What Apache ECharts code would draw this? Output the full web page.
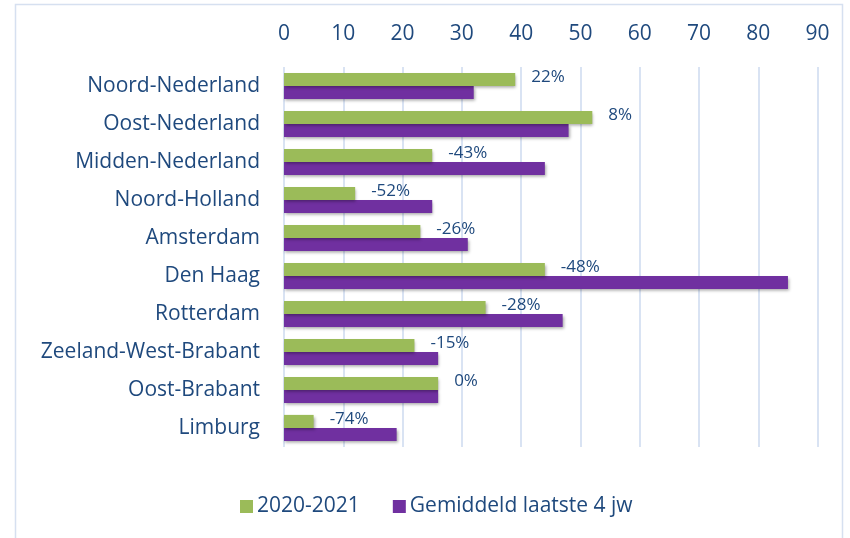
<!DOCTYPE html>
<html>
<head>
<meta charset="utf-8">
<script src="https://cdn.jsdelivr.net/npm/echarts@6/dist/echarts.min.js"></script>
<style>
html,body{margin:0;padding:0;background:#fff;}
#chart{width:850px;height:538px;}
</style>
</head>
<body>
<div id="chart"></div>
<script>
var categories = ["Noord-Nederland","Oost-Nederland","Midden-Nederland","Noord-Holland","Amsterdam","Den Haag","Rotterdam","Zeeland-West-Brabant","Oost-Brabant","Limburg"];
var values2020 = [39, 52, 25, 12, 23, 44, 34, 22, 26, 5];
var valuesAvg = [32, 48, 44, 25, 31, 85, 47, 26, 26, 19];
var pctLabels = ["22%","8%","-43%","-52%","-26%","-48%","-28%","-15%","0%","-74%"];
var seriesNames = ["2020-2021","Gemiddeld laatste 4 jw"];
var xTicks = [0, 90, 10];

var textColor = '#1F497D';
var fontFam = '"Open Sans", "Liberation Sans", sans-serif';
var chart = echarts.init(document.getElementById('chart'));
var shadow = {shadowColor:'rgba(0,0,0,0.35)', shadowBlur:3, shadowOffsetX:1, shadowOffsetY:2};
chart.setOption({
  animation:false,
  textStyle:{fontFamily:fontFam},
  graphic:[{type:'rect', shape:{x:15.5, y:4.5, width:827, height:560}, style:{fill:'none', stroke:'#D6E0F0', lineWidth:1.5}, silent:true}],
  grid:{left:284, right:32.4, top:67, bottom:91, containLabel:false},
  legend:{
    left:235, top:491, itemWidth:13, itemHeight:13, itemGap:33,
    icon:'rect',
    textStyle:{color:textColor, fontSize:21, fontFamily:fontFam, padding:[0,0,0,-1]},
    data:seriesNames
  },
  xAxis:{
    type:'value', position:'top', min:xTicks[0], max:xTicks[1], interval:xTicks[2],
    axisLine:{show:false}, axisTick:{show:false},
    axisLabel:{color:textColor, fontSize:21, margin:22, fontFamily:fontFam},
    splitLine:{show:true, lineStyle:{color:'#D9E3F3', width:2}}
  },
  yAxis:{
    type:'category', inverse:true, data:categories,
    axisLine:{show:false}, axisTick:{show:false},
    axisLabel:{color:textColor, fontSize:21, margin:24, fontFamily:fontFam}
  },
  series:[
    {
      name:seriesNames[0], type:'bar', data:values2020, barGap:'0%', barCategoryGap:'31%',
      itemStyle:Object.assign({color:'#9BBB59'}, shadow),
      label:{show:true, position:'right', distance:16, offset:[0,-2], color:textColor, fontSize:17, fontFamily:fontFam,
        formatter:function(p){return pctLabels[p.dataIndex];}},
      z:3
    },
    {
      name:seriesNames[1], type:'bar', data:valuesAvg, barGap:'0%', barCategoryGap:'31%',
      itemStyle:Object.assign({color:'#7030A0'}, shadow),
      z:2
    }
  ]
});
</script>
</body>
</html>
